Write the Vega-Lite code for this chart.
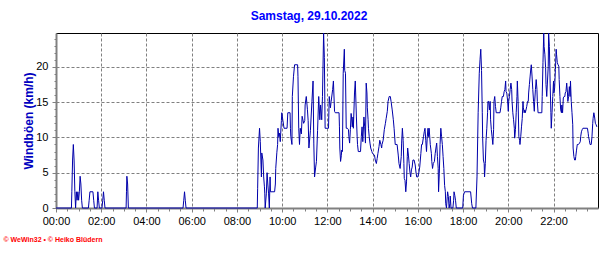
{
  "$schema": "https://vega.github.io/schema/vega-lite/v6.json",
  "width": 542,
  "height": 175,
  "autosize": "none",
  "padding": {"left": 56, "top": 33, "right": 18, "bottom": 45},
  "background": "#ffffff",
  "title": {"text": "Samstag, 29.10.2022", "color": "#0000ff", "fontSize": 12, "fontWeight": "bold", "font": "Liberation Sans", "offset": 8, "dx": -18, "anchor": "middle"},
  "config": {"view": {"stroke": "#000000", "strokeWidth": 1}},
  "data": {
    "values": [
      {"time":"2022-10-29T00:00","kmh":0},{"time":"2022-10-29T00:41","kmh":0},{"time":"2022-10-29T00:42","kmh":2.3},{"time":"2022-10-29T00:44","kmh":6.8},{"time":"2022-10-29T00:46","kmh":9.0},{"time":"2022-10-29T00:48","kmh":6.8},{"time":"2022-10-29T00:50","kmh":2.3},{"time":"2022-10-29T00:52","kmh":0},{"time":"2022-10-29T00:54","kmh":2.3},{"time":"2022-10-29T00:56","kmh":1.1},{"time":"2022-10-29T00:58","kmh":2.3},{"time":"2022-10-29T01:00","kmh":1.1},{"time":"2022-10-29T01:02","kmh":2.3},{"time":"2022-10-29T01:04","kmh":4.5},{"time":"2022-10-29T01:06","kmh":3.4},{"time":"2022-10-29T01:08","kmh":1.1},{"time":"2022-10-29T01:10","kmh":0},
      {"time":"2022-10-29T01:26","kmh":0},{"time":"2022-10-29T01:28","kmh":1.1},{"time":"2022-10-29T01:30","kmh":2.3},{"time":"2022-10-29T01:38","kmh":2.3},{"time":"2022-10-29T01:40","kmh":1.1},{"time":"2022-10-29T01:42","kmh":0},{"time":"2022-10-29T01:49","kmh":0},{"time":"2022-10-29T01:51","kmh":2.3},{"time":"2022-10-29T01:53","kmh":1.1},{"time":"2022-10-29T01:55","kmh":0},{"time":"2022-10-29T02:02","kmh":0},{"time":"2022-10-29T02:04","kmh":1.1},{"time":"2022-10-29T02:06","kmh":2.3},{"time":"2022-10-29T02:08","kmh":1.1},{"time":"2022-10-29T02:10","kmh":0},
      {"time":"2022-10-29T03:06","kmh":0},{"time":"2022-10-29T03:07","kmh":2.3},{"time":"2022-10-29T03:08","kmh":4.5},{"time":"2022-10-29T03:10","kmh":3.4},{"time":"2022-10-29T03:12","kmh":0},{"time":"2022-10-29T05:37","kmh":0},{"time":"2022-10-29T05:39","kmh":1.1},{"time":"2022-10-29T05:41","kmh":2.3},{"time":"2022-10-29T05:43","kmh":1.1},{"time":"2022-10-29T05:45","kmh":0},{"time":"2022-10-29T08:54","kmh":0},
      {"time":"2022-10-29T08:55","kmh":2.8},{"time":"2022-10-29T08:57","kmh":8.5},{"time":"2022-10-29T09:00","kmh":11.3},{"time":"2022-10-29T09:02","kmh":9.4},{"time":"2022-10-29T09:04","kmh":6.1},{"time":"2022-10-29T09:05","kmh":4.4},{"time":"2022-10-29T09:06","kmh":7.8},{"time":"2022-10-29T09:09","kmh":6.8},{"time":"2022-10-29T09:11","kmh":4.4},{"time":"2022-10-29T09:13","kmh":3.0},{"time":"2022-10-29T09:14","kmh":2.0},{"time":"2022-10-29T09:15","kmh":0},{"time":"2022-10-29T09:18","kmh":2.0},{"time":"2022-10-29T09:20","kmh":5.0},{"time":"2022-10-29T09:22","kmh":3.4},{"time":"2022-10-29T09:24","kmh":2.0},{"time":"2022-10-29T09:26","kmh":0},{"time":"2022-10-29T09:28","kmh":4.4},{"time":"2022-10-29T09:29","kmh":2.3},{"time":"2022-10-29T09:40","kmh":2.3},{"time":"2022-10-29T09:42","kmh":3.4},{"time":"2022-10-29T09:43","kmh":5.6},{"time":"2022-10-29T09:46","kmh":7.9},{"time":"2022-10-29T09:48","kmh":9.0},{"time":"2022-10-29T09:49","kmh":11.3},{"time":"2022-10-29T09:51","kmh":10.1},{"time":"2022-10-29T09:53","kmh":10.6},{"time":"2022-10-29T09:55","kmh":9.4},{"time":"2022-10-29T09:58","kmh":12.4},{"time":"2022-10-29T09:59","kmh":13.5},
      {"time":"2022-10-29T10:02","kmh":12.4},{"time":"2022-10-29T10:05","kmh":11.3},{"time":"2022-10-29T10:13","kmh":11.3},{"time":"2022-10-29T10:15","kmh":13.5},{"time":"2022-10-29T10:21","kmh":13.5},{"time":"2022-10-29T10:22","kmh":11.3},{"time":"2022-10-29T10:23","kmh":10.1},{"time":"2022-10-29T10:26","kmh":9.0},{"time":"2022-10-29T10:27","kmh":15.8},{"time":"2022-10-29T10:30","kmh":18.6},{"time":"2022-10-29T10:33","kmh":20.3},{"time":"2022-10-29T10:41","kmh":20.3},{"time":"2022-10-29T10:42","kmh":18.6},{"time":"2022-10-29T10:44","kmh":11.3},{"time":"2022-10-29T10:46","kmh":9.0},{"time":"2022-10-29T10:48","kmh":11.3},{"time":"2022-10-29T10:51","kmh":10.5},{"time":"2022-10-29T10:53","kmh":13.0},{"time":"2022-10-29T10:57","kmh":12.0},
      {"time":"2022-10-29T11:00","kmh":12.4},{"time":"2022-10-29T11:01","kmh":14.6},{"time":"2022-10-29T11:04","kmh":15.8},{"time":"2022-10-29T11:07","kmh":14.0},{"time":"2022-10-29T11:09","kmh":12.4},{"time":"2022-10-29T11:11","kmh":8.5},{"time":"2022-10-29T11:15","kmh":11.0},{"time":"2022-10-29T11:19","kmh":15.1},{"time":"2022-10-29T11:22","kmh":18.0},{"time":"2022-10-29T11:24","kmh":9.2},{"time":"2022-10-29T11:26","kmh":4.4},{"time":"2022-10-29T11:29","kmh":5.8},{"time":"2022-10-29T11:31","kmh":6.6},{"time":"2022-10-29T11:34","kmh":11.0},{"time":"2022-10-29T11:37","kmh":15.8},{"time":"2022-10-29T11:40","kmh":12.5},{"time":"2022-10-29T11:42","kmh":14.6},{"time":"2022-10-29T11:45","kmh":12.5},{"time":"2022-10-29T11:47","kmh":15.8},{"time":"2022-10-29T11:50","kmh":24.8},{"time":"2022-10-29T11:52","kmh":21.3},{"time":"2022-10-29T11:54","kmh":11.3},
      {"time":"2022-10-29T12:03","kmh":11.3},{"time":"2022-10-29T12:05","kmh":15.8},{"time":"2022-10-29T12:08","kmh":14.2},{"time":"2022-10-29T12:10","kmh":15.1},{"time":"2022-10-29T12:14","kmh":16.8},{"time":"2022-10-29T12:16","kmh":18.0},{"time":"2022-10-29T12:19","kmh":13.7},{"time":"2022-10-29T12:21","kmh":13.5},{"time":"2022-10-29T12:31","kmh":13.5},{"time":"2022-10-29T12:32","kmh":11.5},{"time":"2022-10-29T12:33","kmh":8.5},{"time":"2022-10-29T12:35","kmh":6.6},{"time":"2022-10-29T12:37","kmh":7.4},{"time":"2022-10-29T12:38","kmh":8.2},{"time":"2022-10-29T12:40","kmh":8.0},{"time":"2022-10-29T12:42","kmh":19.1},{"time":"2022-10-29T12:45","kmh":22.5},{"time":"2022-10-29T12:46","kmh":19.5},{"time":"2022-10-29T12:48","kmh":19.1},{"time":"2022-10-29T12:50","kmh":11.3},{"time":"2022-10-29T12:53","kmh":11.3},{"time":"2022-10-29T12:56","kmh":11.1},{"time":"2022-10-29T12:57","kmh":10.1},{"time":"2022-10-29T12:59","kmh":9.2},
      {"time":"2022-10-29T13:01","kmh":11.1},{"time":"2022-10-29T13:03","kmh":13.4},{"time":"2022-10-29T13:04","kmh":12.9},{"time":"2022-10-29T13:06","kmh":11.5},{"time":"2022-10-29T13:08","kmh":12.9},{"time":"2022-10-29T13:09","kmh":11.3},{"time":"2022-10-29T13:12","kmh":16.3},{"time":"2022-10-29T13:14","kmh":18.0},{"time":"2022-10-29T13:15","kmh":16.3},{"time":"2022-10-29T13:17","kmh":12.9},{"time":"2022-10-29T13:19","kmh":10.1},{"time":"2022-10-29T13:20","kmh":9.0},{"time":"2022-10-29T13:22","kmh":8.0},{"time":"2022-10-29T13:28","kmh":8.0},{"time":"2022-10-29T13:30","kmh":10.1},{"time":"2022-10-29T13:32","kmh":11.5},{"time":"2022-10-29T13:34","kmh":9.4},{"time":"2022-10-29T13:37","kmh":12.9},{"time":"2022-10-29T13:39","kmh":11.5},{"time":"2022-10-29T13:41","kmh":9.2},{"time":"2022-10-29T13:43","kmh":17.7},{"time":"2022-10-29T13:45","kmh":16.3},{"time":"2022-10-29T13:46","kmh":14.2},{"time":"2022-10-29T13:48","kmh":12.5},{"time":"2022-10-29T13:49","kmh":11.3},{"time":"2022-10-29T13:51","kmh":10.1},{"time":"2022-10-29T13:53","kmh":9.2},{"time":"2022-10-29T13:55","kmh":8.5},{"time":"2022-10-29T13:58","kmh":8.0},
      {"time":"2022-10-29T14:00","kmh":7.7},{"time":"2022-10-29T14:05","kmh":7.5},{"time":"2022-10-29T14:07","kmh":6.8},{"time":"2022-10-29T14:10","kmh":6.3},{"time":"2022-10-29T14:12","kmh":7.0},{"time":"2022-10-29T14:14","kmh":7.7},{"time":"2022-10-29T14:17","kmh":8.7},{"time":"2022-10-29T14:19","kmh":9.6},{"time":"2022-10-29T14:22","kmh":9.0},{"time":"2022-10-29T14:24","kmh":8.5},{"time":"2022-10-29T14:25","kmh":9.0},{"time":"2022-10-29T14:28","kmh":9.6},{"time":"2022-10-29T14:31","kmh":11.1},{"time":"2022-10-29T14:34","kmh":12.0},{"time":"2022-10-29T14:36","kmh":12.7},{"time":"2022-10-29T14:39","kmh":13.7},{"time":"2022-10-29T14:41","kmh":15.1},{"time":"2022-10-29T14:44","kmh":15.8},{"time":"2022-10-29T14:47","kmh":15.8},{"time":"2022-10-29T14:49","kmh":15.1},{"time":"2022-10-29T14:52","kmh":13.9},{"time":"2022-10-29T14:55","kmh":12.5},{"time":"2022-10-29T14:57","kmh":11.3},
      {"time":"2022-10-29T15:00","kmh":9.0},{"time":"2022-10-29T15:05","kmh":9.0},{"time":"2022-10-29T15:08","kmh":7.5},{"time":"2022-10-29T15:10","kmh":6.3},{"time":"2022-10-29T15:13","kmh":5.6},{"time":"2022-10-29T15:16","kmh":7.3},{"time":"2022-10-29T15:17","kmh":9.2},{"time":"2022-10-29T15:19","kmh":11.3},{"time":"2022-10-29T15:21","kmh":9.6},{"time":"2022-10-29T15:23","kmh":6.3},{"time":"2022-10-29T15:24","kmh":4.2},{"time":"2022-10-29T15:26","kmh":3.9},{"time":"2022-10-29T15:28","kmh":2.3},{"time":"2022-10-29T15:30","kmh":3.7},{"time":"2022-10-29T15:32","kmh":7.3},{"time":"2022-10-29T15:33","kmh":8.5},{"time":"2022-10-29T15:35","kmh":7.5},{"time":"2022-10-29T15:37","kmh":6.3},{"time":"2022-10-29T15:39","kmh":5.1},{"time":"2022-10-29T15:41","kmh":4.4},{"time":"2022-10-29T15:43","kmh":5.4},{"time":"2022-10-29T15:45","kmh":5.8},{"time":"2022-10-29T15:47","kmh":6.8},{"time":"2022-10-29T15:50","kmh":6.8},{"time":"2022-10-29T15:53","kmh":6.1},{"time":"2022-10-29T15:55","kmh":5.1},{"time":"2022-10-29T15:57","kmh":4.4},
      {"time":"2022-10-29T16:00","kmh":4.4},{"time":"2022-10-29T16:03","kmh":5.1},{"time":"2022-10-29T16:05","kmh":5.8},{"time":"2022-10-29T16:08","kmh":7.7},{"time":"2022-10-29T16:10","kmh":9.0},{"time":"2022-10-29T16:12","kmh":9.0},{"time":"2022-10-29T16:15","kmh":10.1},{"time":"2022-10-29T16:17","kmh":10.8},{"time":"2022-10-29T16:19","kmh":11.3},{"time":"2022-10-29T16:21","kmh":9.6},{"time":"2022-10-29T16:23","kmh":8.0},{"time":"2022-10-29T16:25","kmh":10.1},{"time":"2022-10-29T16:27","kmh":11.3},{"time":"2022-10-29T16:28","kmh":10.1},{"time":"2022-10-29T16:30","kmh":11.3},{"time":"2022-10-29T16:33","kmh":9.0},{"time":"2022-10-29T16:36","kmh":7.7},{"time":"2022-10-29T16:37","kmh":6.6},{"time":"2022-10-29T16:39","kmh":5.6},{"time":"2022-10-29T16:41","kmh":6.3},{"time":"2022-10-29T16:44","kmh":6.6},{"time":"2022-10-29T16:46","kmh":7.7},{"time":"2022-10-29T16:48","kmh":8.5},{"time":"2022-10-29T16:50","kmh":9.2},{"time":"2022-10-29T16:52","kmh":7.3},{"time":"2022-10-29T16:54","kmh":5.6},{"time":"2022-10-29T16:55","kmh":2.3},{"time":"2022-10-29T16:57","kmh":4.9},{"time":"2022-10-29T16:59","kmh":9.0},
      {"time":"2022-10-29T17:01","kmh":11.3},{"time":"2022-10-29T17:03","kmh":10.1},{"time":"2022-10-29T17:05","kmh":9.0},{"time":"2022-10-29T17:07","kmh":7.3},{"time":"2022-10-29T17:09","kmh":5.6},{"time":"2022-10-29T17:11","kmh":3.2},{"time":"2022-10-29T17:13","kmh":2.3},{"time":"2022-10-29T17:14","kmh":0.6},{"time":"2022-10-29T17:16","kmh":0},{"time":"2022-10-29T17:18","kmh":1.6},{"time":"2022-10-29T17:19","kmh":2.3},{"time":"2022-10-29T17:21","kmh":1.6},{"time":"2022-10-29T17:23","kmh":0},{"time":"2022-10-29T17:25","kmh":0.6},{"time":"2022-10-29T17:26","kmh":1.7},{"time":"2022-10-29T17:28","kmh":0},{"time":"2022-10-29T17:33","kmh":0},{"time":"2022-10-29T17:35","kmh":1.1},{"time":"2022-10-29T17:36","kmh":2.3},{"time":"2022-10-29T17:38","kmh":1.8},{"time":"2022-10-29T17:40","kmh":1.1},{"time":"2022-10-29T17:42","kmh":0},{"time":"2022-10-29T17:59","kmh":0},
      {"time":"2022-10-29T18:01","kmh":1.8},{"time":"2022-10-29T18:04","kmh":2.3},{"time":"2022-10-29T18:20","kmh":2.3},{"time":"2022-10-29T18:23","kmh":0.6},{"time":"2022-10-29T18:25","kmh":0},{"time":"2022-10-29T18:34","kmh":0},{"time":"2022-10-29T18:37","kmh":4.4},{"time":"2022-10-29T18:40","kmh":13.5},{"time":"2022-10-29T18:43","kmh":19.1},{"time":"2022-10-29T18:45","kmh":21.0},{"time":"2022-10-29T18:47","kmh":22.5},{"time":"2022-10-29T18:49","kmh":19.5},{"time":"2022-10-29T18:51","kmh":13.5},{"time":"2022-10-29T18:52","kmh":9.9},{"time":"2022-10-29T18:54","kmh":6.8},{"time":"2022-10-29T18:56","kmh":6.3},{"time":"2022-10-29T18:57","kmh":4.4},{"time":"2022-10-29T18:59","kmh":6.3},
      {"time":"2022-10-29T19:01","kmh":9.6},{"time":"2022-10-29T19:03","kmh":11.3},{"time":"2022-10-29T19:05","kmh":13.5},{"time":"2022-10-29T19:06","kmh":15.1},{"time":"2022-10-29T19:08","kmh":15.1},{"time":"2022-10-29T19:10","kmh":13.9},{"time":"2022-10-29T19:12","kmh":15.1},{"time":"2022-10-29T19:13","kmh":12.5},{"time":"2022-10-29T19:15","kmh":11.1},{"time":"2022-10-29T19:17","kmh":10.1},{"time":"2022-10-29T19:19","kmh":9.0},{"time":"2022-10-29T19:21","kmh":11.1},{"time":"2022-10-29T19:22","kmh":15.1},{"time":"2022-10-29T19:24","kmh":15.8},{"time":"2022-10-29T19:26","kmh":14.4},{"time":"2022-10-29T19:28","kmh":13.5},{"time":"2022-10-29T19:38","kmh":13.5},{"time":"2022-10-29T19:40","kmh":14.2},{"time":"2022-10-29T19:42","kmh":15.1},{"time":"2022-10-29T19:44","kmh":15.8},{"time":"2022-10-29T19:47","kmh":15.8},{"time":"2022-10-29T19:49","kmh":16.5},{"time":"2022-10-29T19:51","kmh":16.8},{"time":"2022-10-29T19:53","kmh":18.0},{"time":"2022-10-29T19:54","kmh":16.5},{"time":"2022-10-29T19:56","kmh":16.3},{"time":"2022-10-29T19:58","kmh":15.3},
      {"time":"2022-10-29T20:00","kmh":13.7},{"time":"2022-10-29T20:01","kmh":15.1},{"time":"2022-10-29T20:03","kmh":15.8},{"time":"2022-10-29T20:05","kmh":16.8},{"time":"2022-10-29T20:07","kmh":17.7},{"time":"2022-10-29T20:09","kmh":16.8},{"time":"2022-10-29T20:10","kmh":15.1},{"time":"2022-10-29T20:12","kmh":13.5},{"time":"2022-10-29T20:14","kmh":12.5},{"time":"2022-10-29T20:16","kmh":11.3},{"time":"2022-10-29T20:17","kmh":9.9},{"time":"2022-10-29T20:19","kmh":11.1},{"time":"2022-10-29T20:21","kmh":13.5},{"time":"2022-10-29T20:23","kmh":15.8},{"time":"2022-10-29T20:24","kmh":18.0},{"time":"2022-10-29T20:26","kmh":15.1},{"time":"2022-10-29T20:28","kmh":10.1},{"time":"2022-10-29T20:30","kmh":9.6},{"time":"2022-10-29T20:31","kmh":9.0},{"time":"2022-10-29T20:33","kmh":10.1},{"time":"2022-10-29T20:35","kmh":11.5},{"time":"2022-10-29T20:37","kmh":12.7},{"time":"2022-10-29T20:39","kmh":15.1},{"time":"2022-10-29T20:40","kmh":14.2},{"time":"2022-10-29T20:42","kmh":13.5},{"time":"2022-10-29T20:44","kmh":13.9},{"time":"2022-10-29T20:45","kmh":13.5},{"time":"2022-10-29T20:47","kmh":13.9},{"time":"2022-10-29T20:49","kmh":14.4},{"time":"2022-10-29T20:51","kmh":15.1},{"time":"2022-10-29T20:53","kmh":15.1},{"time":"2022-10-29T20:54","kmh":16.3},{"time":"2022-10-29T20:56","kmh":17.5},{"time":"2022-10-29T20:58","kmh":18.7},
      {"time":"2022-10-29T21:00","kmh":19.9},{"time":"2022-10-29T21:01","kmh":20.3},{"time":"2022-10-29T21:03","kmh":18.7},{"time":"2022-10-29T21:05","kmh":16.8},{"time":"2022-10-29T21:07","kmh":15.1},{"time":"2022-10-29T21:09","kmh":13.7},{"time":"2022-10-29T21:10","kmh":15.1},{"time":"2022-10-29T21:12","kmh":16.8},{"time":"2022-10-29T21:14","kmh":18.2},{"time":"2022-10-29T21:16","kmh":16.8},{"time":"2022-10-29T21:17","kmh":15.1},{"time":"2022-10-29T21:19","kmh":13.5},{"time":"2022-10-29T21:29","kmh":13.5},{"time":"2022-10-29T21:30","kmh":15.8},{"time":"2022-10-29T21:32","kmh":20.6},{"time":"2022-10-29T21:34","kmh":24.8},{"time":"2022-10-29T21:35","kmh":22.9},{"time":"2022-10-29T21:37","kmh":21.8},{"time":"2022-10-29T21:39","kmh":19.9},{"time":"2022-10-29T21:40","kmh":17.5},{"time":"2022-10-29T21:42","kmh":15.8},{"time":"2022-10-29T21:44","kmh":18.0},{"time":"2022-10-29T21:46","kmh":20.1},{"time":"2022-10-29T21:47","kmh":24.8},{"time":"2022-10-29T21:49","kmh":22.9},{"time":"2022-10-29T21:51","kmh":17.7},{"time":"2022-10-29T21:53","kmh":13.5},{"time":"2022-10-29T21:54","kmh":11.3},{"time":"2022-10-29T21:56","kmh":13.5},{"time":"2022-10-29T21:58","kmh":15.8},
      {"time":"2022-10-29T22:00","kmh":18.0},{"time":"2022-10-29T22:01","kmh":16.3},{"time":"2022-10-29T22:03","kmh":17.0},{"time":"2022-10-29T22:05","kmh":19.6},{"time":"2022-10-29T22:07","kmh":22.5},{"time":"2022-10-29T22:08","kmh":21.8},{"time":"2022-10-29T22:10","kmh":20.6},{"time":"2022-10-29T22:12","kmh":20.3},{"time":"2022-10-29T22:14","kmh":20.1},{"time":"2022-10-29T22:15","kmh":18.2},{"time":"2022-10-29T22:17","kmh":15.8},{"time":"2022-10-29T22:19","kmh":13.9},{"time":"2022-10-29T22:21","kmh":13.5},{"time":"2022-10-29T22:22","kmh":14.6},{"time":"2022-10-29T22:24","kmh":13.5},{"time":"2022-10-29T22:26","kmh":15.6},{"time":"2022-10-29T22:28","kmh":15.8},{"time":"2022-10-29T22:30","kmh":15.8},{"time":"2022-10-29T22:31","kmh":16.3},{"time":"2022-10-29T22:33","kmh":16.5},{"time":"2022-10-29T22:35","kmh":17.7},{"time":"2022-10-29T22:37","kmh":16.3},{"time":"2022-10-29T22:38","kmh":15.1},{"time":"2022-10-29T22:40","kmh":15.8},{"time":"2022-10-29T22:42","kmh":17.2},{"time":"2022-10-29T22:44","kmh":15.8},{"time":"2022-10-29T22:45","kmh":18.0},{"time":"2022-10-29T22:47","kmh":15.1},{"time":"2022-10-29T22:49","kmh":13.5},{"time":"2022-10-29T22:51","kmh":11.8},{"time":"2022-10-29T22:52","kmh":8.5},{"time":"2022-10-29T22:54","kmh":7.3},{"time":"2022-10-29T22:56","kmh":6.8},{"time":"2022-10-29T22:58","kmh":6.8},{"time":"2022-10-29T22:59","kmh":7.3},
      {"time":"2022-10-29T23:01","kmh":8.2},{"time":"2022-10-29T23:03","kmh":9.0},{"time":"2022-10-29T23:06","kmh":9.0},{"time":"2022-10-29T23:09","kmh":9.2},{"time":"2022-10-29T23:11","kmh":9.4},{"time":"2022-10-29T23:12","kmh":10.1},{"time":"2022-10-29T23:14","kmh":10.8},{"time":"2022-10-29T23:16","kmh":11.1},{"time":"2022-10-29T23:18","kmh":11.3},{"time":"2022-10-29T23:30","kmh":11.3},{"time":"2022-10-29T23:32","kmh":10.6},{"time":"2022-10-29T23:33","kmh":10.1},{"time":"2022-10-29T23:35","kmh":9.6},{"time":"2022-10-29T23:37","kmh":9.0},{"time":"2022-10-29T23:40","kmh":9.0},{"time":"2022-10-29T23:42","kmh":10.1},{"time":"2022-10-29T23:44","kmh":12.0},{"time":"2022-10-29T23:45","kmh":12.7},{"time":"2022-10-29T23:47","kmh":13.5},{"time":"2022-10-29T23:49","kmh":12.9},{"time":"2022-10-29T23:51","kmh":12.0},{"time":"2022-10-29T23:53","kmh":11.8},{"time":"2022-10-29T23:55","kmh":11.5}
    ]
  },
  "layer": [
    {
      "mark": {"type": "line", "opacity": 0},
      "encoding": {
        "x": {
          "field": "time", "type": "temporal",
          "scale": {"domain": [{"year": 2022, "month": 10, "date": 29, "hours": 0, "minutes": 0}, {"year": 2022, "month": 10, "date": 29, "hours": 23, "minutes": 58}], "nice": false},
          "axis": {
            "orient": "bottom",
            "values": [
              {"year": 2022, "month": 10, "date": 29, "hours": 0}, {"year": 2022, "month": 10, "date": 29, "hours": 2}, {"year": 2022, "month": 10, "date": 29, "hours": 4}, {"year": 2022, "month": 10, "date": 29, "hours": 6},
              {"year": 2022, "month": 10, "date": 29, "hours": 8}, {"year": 2022, "month": 10, "date": 29, "hours": 10}, {"year": 2022, "month": 10, "date": 29, "hours": 12}, {"year": 2022, "month": 10, "date": 29, "hours": 14},
              {"year": 2022, "month": 10, "date": 29, "hours": 16}, {"year": 2022, "month": 10, "date": 29, "hours": 18}, {"year": 2022, "month": 10, "date": 29, "hours": 20}, {"year": 2022, "month": 10, "date": 29, "hours": 22}
            ],
            "format": "%H:%M",
            "grid": true, "gridColor": "#808080", "gridDash": [3, 2], "gridOpacity": 1, "gridWidth": 1,
            "domain": true, "domainColor": "#808080", "domainWidth": 2,
            "ticks": true, "tickSize": 4, "tickColor": "#808080",
            "labelFont": "Liberation Sans", "labelFontSize": 11, "labelColor": "#000000", "labelPadding": 3, "labelFlush": false, "labelOverlap": false,
            "title": "© WeWin32 • © Heiko Blüdern", "titleColor": "#ff0000", "titleFont": "Liberation Sans", "titleFontSize": 7, "titleFontWeight": "bold",
            "titleX": -53, "titleY": 33, "titleAlign": "left", "titleBaseline": "alphabetic"
          }
        },
        "y": {
          "field": "kmh", "type": "quantitative",
          "scale": {"domain": [0, 24.8], "nice": false},
          "axis": {
            "orient": "left", "values": [0, 5, 10, 15, 20],
            "grid": true, "gridColor": "#808080", "gridDash": [3, 2], "gridOpacity": 1, "gridWidth": 1,
            "domain": true, "domainColor": "#808080", "domainWidth": 2,
            "ticks": true, "tickSize": 4, "tickColor": "#808080",
            "labelFont": "Liberation Sans", "labelFontSize": 11, "labelColor": "#000000", "labelPadding": 4,
            "title": "Windböen (km/h)", "titleColor": "#0000c0", "titleFont": "Liberation Sans", "titleFontSize": 12, "titleFontWeight": "bold",
            "titleX": -28, "titleY": 87.5, "titleAngle": -90, "titleAlign": "center", "titleBaseline": "middle"
          }
        }
      }
    },
    {
      "mark": {"type": "line", "color": "#0000aa", "strokeWidth": 1, "interpolate": "linear"},
      "encoding": {
        "x": {
          "field": "time", "type": "temporal",
          "axis": {"orient": "bottom", "tickCount": 48, "labels": false, "grid": false, "domain": false, "ticks": true, "tickSize": 3, "tickColor": "#808080", "title": null}
        },
        "y": {
          "field": "kmh", "type": "quantitative",
          "axis": {"orient": "left", "values": [0,1,2,3,4,5,6,7,8,9,10,11,12,13,14,15,16,17,18,19,20,21,22,23,24], "labels": false, "grid": false, "domain": false, "ticks": true, "tickSize": 2, "tickColor": "#808080", "title": null}
        }
      }
    }
  ],
  "resolve": {"axis": {"x": "independent", "y": "independent"}}
}
